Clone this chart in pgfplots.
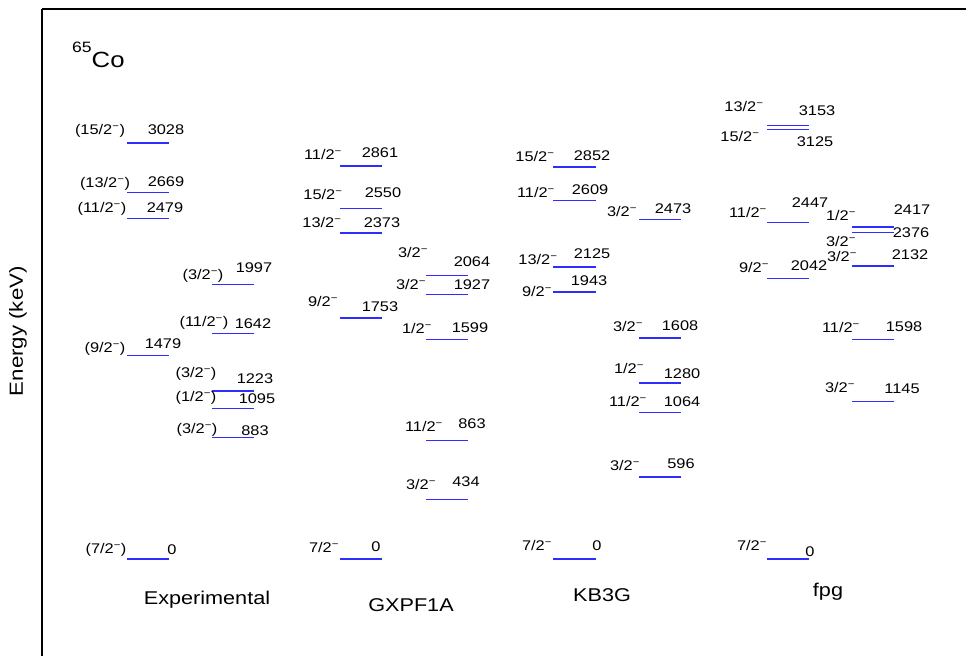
\documentclass[border=0pt]{standalone}
\usepackage{pgfplots}
\pgfplotsset{compat=1.18}
\usepackage{fontspec}
\setmainfont{Liberation Sans}[FakeStretch=1.17]
\definecolor{levblue}{RGB}{45,45,255}
\newcommand{\m}{\textsuperscript{\symbol{"2212}}}
\newcommand{\lab}[3]{\node[anchor=base, inner sep=0pt, font=\fontsize{14}{16}\selectfont, yshift={(559-#2)*1pt}] at (axis cs:#1,0) {#3};}
\newcommand{\ttl}[3]{\node[anchor=base, inner sep=0pt, yshift={(559-#2)*1pt}, font=\fontsize{18.5}{20}\selectfont] at (axis cs:#1,0) {#3};}
\newcommand{\lev}[3]{\addplot[levblue, line width=1.3pt] coordinates {(#1,#3) (#2,#3)};}
\begin{document}
\begin{tikzpicture}
\path[use as bounding box] (0,0) rectangle (967pt,656pt);
\begin{axis}[
  at={(42pt,0pt)}, anchor=south west,
  width=924pt, height=647pt, scale only axis,
  xmin=42, xmax=966, ymin=-706, ymax=4003,
  axis x line*=top, axis y line*=left,
  x axis line style={-, line width=1.2pt},
  y axis line style={-, line width=1.2pt},
  xtick=\empty, ytick=\empty,
  clip=false,
  ylabel={Energy (keV)},
  ylabel style={at={(axis description cs:-0.026,0.502)}, anchor=center, font=\fontsize{19}{21}\selectfont},
]
% Experimental
\lev{127}{169}{3028}
\lev{127}{169}{2669}
\lev{127}{169}{2479}
\lev{127}{169}{1479}
\lev{127}{169}{0}
\lev{212}{254}{1997}
\lev{212}{254}{1642}
\lev{212}{254}{1223}
\lev{212}{254}{1095}
\lev{212}{254}{883}
% GXPF1A
\lev{340}{382}{2861}
\lev{340}{382}{2550}
\lev{340}{382}{2373}
\lev{340}{382}{1753}
\lev{340}{382}{0}
\lev{426}{468}{2064}
\lev{426}{468}{1927}
\lev{426}{468}{1599}
\lev{426}{468}{863}
\lev{426}{468}{434}
% KB3G
\lev{553}{596}{2852}
\lev{553}{596}{2609}
\lev{553}{596}{2125}
\lev{553}{596}{1943}
\lev{553}{596}{0}
\lev{639}{681}{2473}
\lev{639}{681}{1608}
\lev{639}{681}{1280}
\lev{639}{681}{1064}
\lev{639}{681}{596}
% fpg
\lev{767}{809}{3153}
\lev{767}{809}{3125}
\lev{767}{809}{2447}
\lev{767}{809}{2042}
\lev{767}{809}{0}
\lev{852}{894}{2417}
\lev{852}{894}{2376}
\lev{852}{894}{2132}
\lev{852}{894}{1598}
\lev{852}{894}{1145}
% labels Experimental
\lab{100}{135}{(15/2\m)} \lab{166}{135}{3028}
\lab{105}{188}{(13/2\m)} \lab{166}{187}{2669}
\lab{102}{213}{(11/2\m)} \lab{165}{213}{2479}
\lab{105}{353}{(9/2\m)}  \lab{163}{349}{1479}
\lab{203}{280}{(3/2\m)}  \lab{254}{273}{1997}
\lab{204}{327}{(11/2\m)} \lab{253}{329}{1642}
\lab{196}{378}{(3/2\m)}  \lab{255}{384}{1223}
\lab{196}{402}{(1/2\m)}  \lab{257}{404}{1095}
\lab{197}{434}{(3/2\m)}  \lab{255}{436}{883}
\lab{106}{554}{(7/2\m)}  \lab{172}{555}{0}
% labels GXPF1A
\lab{323}{160}{11/2\m} \lab{380}{158}{2861}
\lab{323}{200}{15/2\m} \lab{383}{198}{2550}
\lab{322}{228}{13/2\m} \lab{382}{228}{2373}
\lab{413}{258}{3/2\m}  \lab{472}{267}{2064}
\lab{411}{290}{3/2\m}  \lab{472}{290}{1927}
\lab{323}{307}{9/2\m}  \lab{380}{312}{1753}
\lab{417}{334}{1/2\m}  \lab{470}{333}{1599}
\lab{424}{432}{11/2\m} \lab{472}{429}{863}
\lab{421}{490}{3/2\m}  \lab{466}{487}{434}
\lab{324}{553}{7/2\m}  \lab{376}{552}{0}
% labels KB3G
\lab{535}{162}{15/2\m} \lab{592}{161}{2852}
\lab{536}{198}{11/2\m} \lab{590}{195}{2609}
\lab{622}{217}{3/2\m}  \lab{673}{214}{2473}
\lab{538}{265}{13/2\m} \lab{592}{259}{2125}
\lab{537}{297}{9/2\m}  \lab{589}{286}{1943}
\lab{628}{332}{3/2\m}  \lab{680}{331}{1608}
\lab{629}{374}{1/2\m}  \lab{682}{379}{1280}
\lab{628}{407}{11/2\m} \lab{682}{407}{1064}
\lab{625}{471}{3/2\m}  \lab{681}{469}{596}
\lab{537}{551}{7/2\m}  \lab{597}{551}{0}
% labels fpg
\lab{744}{112}{13/2\m} \lab{817}{116}{3153}
\lab{740}{142}{15/2\m} \lab{815}{147}{3125}
\lab{748}{218}{11/2\m} \lab{810}{208}{2447}
\lab{841}{221}{1/2\m}  \lab{912}{215}{2417}
\lab{841}{247}{3/2\m}  \lab{911}{238}{2376}
\lab{842}{262}{3/2\m}  \lab{910}{260}{2132}
\lab{754}{273}{9/2\m}  \lab{809}{271}{2042}
\lab{841}{333}{11/2\m} \lab{904}{332}{1598}
\lab{840}{393}{3/2\m}  \lab{902}{394}{1145}
\lab{752}{551}{7/2\m}  \lab{810}{557}{0}
% titles
\ttl{207}{605}{Experimental}
\ttl{411}{612}{GXPF1A}
\ttl{602}{602}{KB3G}
\ttl{828}{597}{fpg}
\node[anchor=base west, inner sep=0pt, yshift={(559-68)*1pt}] at (axis cs:72,0)
  {\raisebox{15pt}{\fontsize{15}{16}\selectfont 65}\fontsize{22}{24}\selectfont Co};
\end{axis}
\end{tikzpicture}
\end{document}
